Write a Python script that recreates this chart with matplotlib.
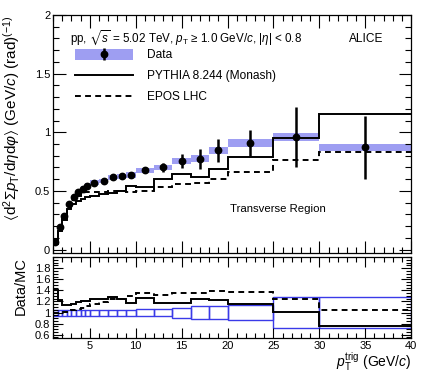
import numpy as np
import matplotlib
matplotlib.use('Agg')
import matplotlib.pyplot as plt
from matplotlib.patches import Patch
from matplotlib.lines import Line2D
from matplotlib.ticker import MultipleLocator

plt.rcParams['font.family'] = ['Liberation Sans', 'DejaVu Sans']
plt.rcParams['mathtext.fontset'] = 'custom'
plt.rcParams['mathtext.rm'] = 'Liberation Sans'
plt.rcParams['mathtext.it'] = 'Liberation Sans:italic'
plt.rcParams['mathtext.bf'] = 'Liberation Sans:bold'
plt.rcParams['mathtext.fallback'] = 'stix'

edges = [1, 1.5, 2, 2.5, 3, 3.5, 4, 4.5, 5, 6, 7, 8, 9, 10, 12, 14, 16, 18, 20, 25, 30, 40]
data = [0.062, 0.19, 0.29, 0.39, 0.445, 0.49, 0.52, 0.545, 0.57, 0.585, 0.615, 0.625,
        0.635, 0.675, 0.70, 0.755, 0.775, 0.845, 0.907, 0.958, 0.873]
stat = [0.002, 0.002, 0.003, 0.003, 0.004, 0.004, 0.005, 0.006, 0.006, 0.008, 0.01, 0.012,
        0.015, 0.018, 0.035, 0.056, 0.085, 0.10, 0.11, 0.255, 0.27]
sys_rel = 0.035
pythia = [0.044, 0.156, 0.254, 0.345, 0.385, 0.413, 0.43, 0.449, 0.458, 0.47, 0.482, 0.502,
          0.54, 0.535, 0.60, 0.642, 0.62, 0.69, 0.789, 0.955, 1.155]
epos = [0.062, 0.19, 0.285, 0.378, 0.424, 0.458, 0.477, 0.487, 0.49, 0.49, 0.495, 0.50,
        0.49, 0.50, 0.53, 0.56, 0.57, 0.605, 0.665, 0.767, 0.831]
# total relative data uncertainty shown in the ratio panel
ratio_unc = [0.055, 0.055, 0.055, 0.055, 0.055, 0.055, 0.055, 0.055, 0.055, 0.055, 0.055,
             0.055, 0.055, 0.06, 0.065, 0.09, 0.125, 0.125, 0.13, 0.275, 0.28]

edges = np.array(edges)
data = np.array(data)
stat = np.array(stat)
pythia = np.array(pythia)
epos = np.array(epos)
ratio_unc = np.array(ratio_unc)
centers = 0.5 * (edges[1:] + edges[:-1])
widths = edges[1:] - edges[:-1]

band_color = '#9e9ef2'
box_color = '#3a3ae8'
dash = (0, (3, 2.2))

fig = plt.figure(figsize=(4.31, 3.76), dpi=100)
ax = fig.add_axes([0.123, 0.327, 0.831, 0.633])
ax2 = fig.add_axes([0.123, 0.101, 0.831, 0.215])

# upper panel
ax.bar(centers, 2 * sys_rel * data, width=widths, bottom=data - sys_rel * data,
       color=band_color, edgecolor='none', zorder=1)
ax.stairs(pythia, edges, baseline=None, color='black', lw=1.4, zorder=2)
ax.stairs(epos, edges, baseline=None, color='black', lw=1.4, ls=dash, zorder=2)
eb = ax.errorbar(centers, data, yerr=stat, fmt='o', color='black', ms=4.6, elinewidth=1.8,
                 capsize=0, zorder=3)

ax.set_xlim(1, 40)
ax.set_ylim(-0.03, 2)
ax.xaxis.set_major_locator(MultipleLocator(5))
ax.xaxis.set_minor_locator(MultipleLocator(1))
ax.yaxis.set_minor_locator(MultipleLocator(0.1))
ax.set_yticks([0, 0.5, 1, 1.5, 2])
ax.set_yticklabels(['0', '0.5', '1', '1.5', '2'])
ax.tick_params(which='both', direction='in', top=True, right=True, labelbottom=False,
               labelsize=8, width=0.8, pad=2)
ax.tick_params(which='major', length=9)
ax.tick_params(which='minor', length=4.5)
for s in ax.spines.values():
    s.set_linewidth(0.9)

ax.set_ylabel(r'$\langle\mathrm{d}^2\Sigma p_\mathrm{T}/\mathrm{d}\eta\mathrm{d}\varphi\rangle$ (GeV/$c$) (rad)$^{(-1)}$',
              fontsize=11, loc='top')
ax.yaxis.set_label_coords(-0.087, 1.0)

ax.text(0.047, 0.887, r'pp, $\sqrt{s}$ = 5.02 TeV, $p_\mathrm{T}$ ≥ 1.0 GeV/$c$, |$\eta$| < 0.8',
        transform=ax.transAxes, fontsize=8.4, va='baseline')
ax.text(0.922, 0.887, 'ALICE', transform=ax.transAxes, fontsize=8.6, va='baseline', ha='right')
ax.text(0.494, 0.172, 'Transverse Region', transform=ax.transAxes, fontsize=8.2, va='baseline')

handles = [(Patch(facecolor=band_color, edgecolor='none'), eb),
           Line2D([], [], color='black', lw=1.4),
           Line2D([], [], color='black', lw=1.4, ls=dash)]
labels = ['Data', 'PYTHIA 8.244 (Monash)', 'EPOS LHC']
ax.legend(handles, labels, loc='upper left', bbox_to_anchor=(0.061, 0.858), frameon=False,
          fontsize=8.6, handlelength=4.9, handleheight=1.0, handletextpad=1.15,
          labelspacing=0.72, borderpad=0, borderaxespad=0)

# ratio panel
ax2.bar(centers, 2 * ratio_unc, width=widths, bottom=1 - ratio_unc, fill=False,
        edgecolor=box_color, lw=1.0, zorder=1)
ax2.stairs(data / pythia, edges, baseline=None, color='black', lw=1.4, zorder=2)
ax2.stairs(data / epos, edges, baseline=None, color='black', lw=1.4, ls=dash, zorder=2)

ax2.set_xlim(1, 40)
ax2.set_ylim(0.54, 2.0)
ax2.xaxis.set_major_locator(MultipleLocator(5))
ax2.xaxis.set_minor_locator(MultipleLocator(1))
ax2.set_yticks([0.6, 0.8, 1, 1.2, 1.4, 1.6, 1.8])
ax2.set_yticklabels(['0.6', '0.8', '1', '1.2', '1.4', '1.6', '1.8'])
ax2.yaxis.set_minor_locator(MultipleLocator(0.05))
ax2.tick_params(which='both', direction='in', top=True, right=True, labelsize=8,
                width=0.8, pad=2)
ax2.tick_params(which='major', length=7)
ax2.tick_params(which='minor', length=3.5)
for s in ax2.spines.values():
    s.set_linewidth(0.9)

ax2.set_ylabel('Data/MC', fontsize=10.5, loc='top')
ax2.yaxis.set_label_coords(-0.07, 1.0)
ax2.set_xlabel(r'$p_\mathrm{T}^\mathrm{trig}$ (GeV/$c$)', fontsize=10, loc='right')
ax2.xaxis.set_label_coords(1.0, -0.37)
ax2.xaxis.label.set_va('baseline')

fig.savefig('out.png', dpi=100)
